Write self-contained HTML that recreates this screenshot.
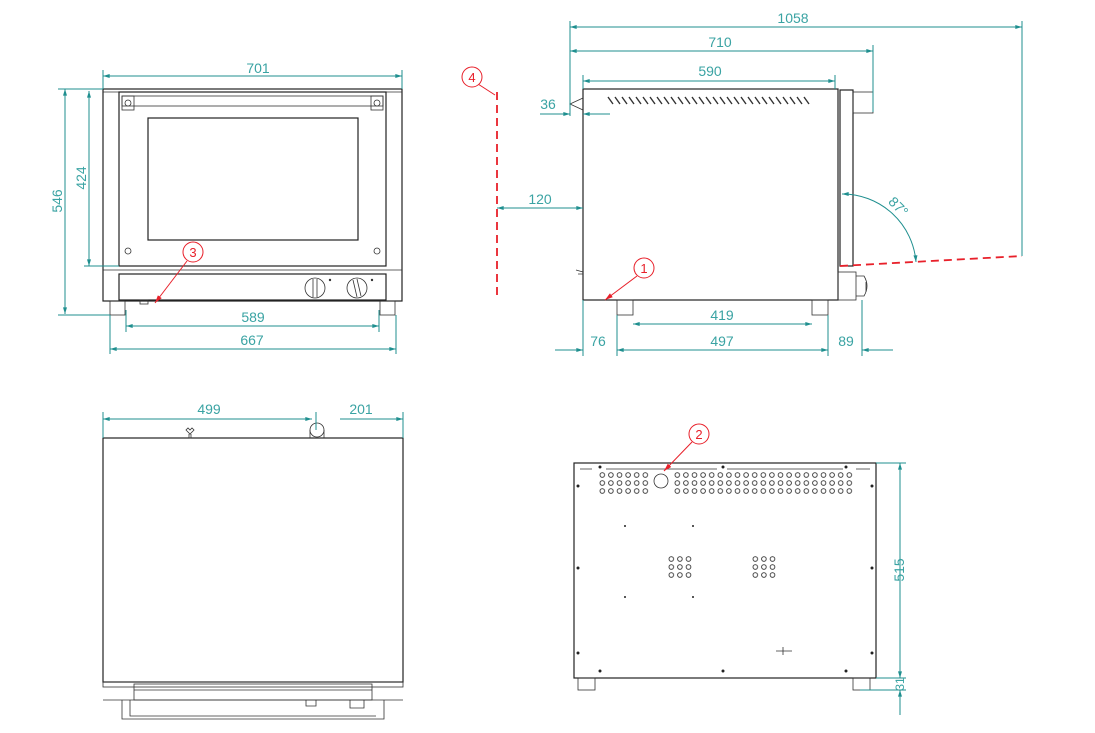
<!DOCTYPE html>
<html><head><meta charset="utf-8"><style>
html,body{margin:0;padding:0;background:#fff;}
svg{display:block;}
text{font-family:"Liberation Sans",sans-serif;font-size:14px;fill:#3aa3a3;}
.d{stroke:#1f8f8f;stroke-width:1;fill:none;}
.k{stroke:#222;stroke-width:1.2;fill:none;}
.kt{stroke:#333;stroke-width:0.8;fill:none;}
.r{stroke:#e8202a;stroke-width:1.8;fill:none;stroke-dasharray:8 5;}
.rc{stroke:#e8202a;stroke-width:1;fill:#fff;}
.rt{fill:#e8202a;font-size:13px;}
</style></head><body>
<svg width="1095" height="733" viewBox="0 0 1095 733" xmlns="http://www.w3.org/2000/svg">
<defs>
<marker id="a" viewBox="0 0 10 6" refX="10" refY="3" markerWidth="10" markerHeight="4" orient="auto-start-reverse" markerUnits="userSpaceOnUse"><path d="M0,0 L10,3 L0,6 z" fill="#1f8f8f"/></marker>
<marker id="ra" viewBox="0 0 10 6" refX="10" refY="3" markerWidth="8" markerHeight="5" orient="auto" markerUnits="userSpaceOnUse"><path d="M0,0 L10,3 L0,6 z" fill="#e8202a"/></marker>
<pattern id="h1" x="598" y="471" width="8.6" height="8" patternUnits="userSpaceOnUse"><circle cx="4.3" cy="4" r="2.3" fill="none" stroke="#333" stroke-width="0.9"/></pattern>
<pattern id="h2" x="673" y="471" width="8.6" height="8" patternUnits="userSpaceOnUse"><circle cx="4.3" cy="4" r="2.3" fill="none" stroke="#333" stroke-width="0.9"/></pattern>
<pattern id="h3" x="667" y="555" width="8.6" height="8" patternUnits="userSpaceOnUse"><circle cx="4.3" cy="4" r="2.3" fill="none" stroke="#333" stroke-width="0.9"/></pattern>
<pattern id="h4" x="751" y="555" width="8.6" height="8" patternUnits="userSpaceOnUse"><circle cx="4.3" cy="4" r="2.3" fill="none" stroke="#333" stroke-width="0.9"/></pattern>
</defs>

<!-- FRONT VIEW -->
<g>
<rect class="k" x="103" y="89" width="299" height="212"/>
<line class="kt" x1="103" y1="92" x2="402" y2="92"/>
<rect class="k" x="119" y="92" width="267" height="174"/>
<rect class="kt" x="122" y="96" width="261" height="10"/>
<rect class="kt" x="122" y="96" width="12" height="14"/><rect class="kt" x="371" y="96" width="12" height="14"/>
<circle class="kt" cx="128" cy="103" r="3"/><circle class="kt" cx="377" cy="103" r="3"/>
<rect class="k" x="148" y="118" width="210" height="122"/>
<circle class="kt" cx="128" cy="251" r="3"/><circle class="kt" cx="377" cy="251" r="3"/>
<line class="kt" x1="103" y1="270" x2="402" y2="270"/>
<rect class="k" x="119" y="274" width="267" height="26"/>
<ellipse class="kt" cx="315" cy="288" rx="10" ry="10"/><line class="kt" x1="313" y1="279" x2="313" y2="297"/><line class="kt" x1="317" y1="279" x2="317" y2="297"/>
<ellipse class="kt" cx="357" cy="288" rx="10" ry="10"/><line class="kt" x1="353" y1="280" x2="357" y2="297"/><line class="kt" x1="357" y1="279" x2="361" y2="296"/>
<circle cx="330" cy="280" r="1.2" fill="#333"/><circle cx="372" cy="280" r="1.2" fill="#333"/>
<rect class="kt" x="110" y="301" width="15" height="14"/><rect class="kt" x="380" y="301" width="15" height="14"/>
<rect class="kt" x="140" y="300" width="8" height="4"/>
<line class="d" x1="103" y1="76" x2="402" y2="76" marker-start="url(#a)" marker-end="url(#a)"/>
<line class="d" x1="103" y1="70" x2="103" y2="89"/><line class="d" x1="402" y1="70" x2="402" y2="89"/>
<text x="258" y="73" text-anchor="middle">701</text>
<line class="d" x1="65" y1="89" x2="65" y2="314" marker-start="url(#a)" marker-end="url(#a)"/>
<line class="d" x1="58" y1="89" x2="103" y2="89"/><line class="d" x1="58" y1="315" x2="110" y2="315"/>
<text transform="translate(62,201) rotate(-90)" text-anchor="middle">546</text>
<line class="d" x1="89" y1="91" x2="89" y2="266" marker-start="url(#a)" marker-end="url(#a)"/>
<line class="d" x1="84" y1="266" x2="119" y2="266"/>
<text transform="translate(86,178) rotate(-90)" text-anchor="middle">424</text>
<line class="d" x1="126" y1="326" x2="379" y2="326" marker-start="url(#a)" marker-end="url(#a)"/>
<line class="d" x1="126" y1="310" x2="126" y2="332"/><line class="d" x1="379" y1="310" x2="379" y2="332"/>
<text x="253" y="322" text-anchor="middle">589</text>
<line class="d" x1="110" y1="349" x2="396" y2="349" marker-start="url(#a)" marker-end="url(#a)"/>
<line class="d" x1="110" y1="315" x2="110" y2="354"/><line class="d" x1="396" y1="315" x2="396" y2="354"/>
<text x="252" y="345" text-anchor="middle">667</text>
<line stroke="#e8202a" stroke-width="1" x1="187" y1="261" x2="155" y2="303" marker-end="url(#ra)"/>
<circle class="rc" cx="193" cy="252" r="10"/><text class="rt" x="193" y="257" text-anchor="middle">3</text>
</g>

<!-- SIDE VIEW -->
<g>
<rect class="k" x="583" y="89" width="255" height="211"/>
<rect class="k" x="840" y="90" width="13" height="176"/>
<rect class="kt" x="853" y="92" width="20" height="21"/>
<path class="kt" d="M583,98 L570,104 L583,110"/>
<rect class="kt" x="838" y="272" width="18" height="28"/>
<path class="kt" d="M856,276 L864,276 Q870,286 864,296 L856,296"/>
<line class="kt" x1="866" y1="282" x2="866" y2="292"/>
<rect class="kt" x="617" y="300" width="16" height="15"/><rect class="kt" x="812" y="300" width="16" height="15"/>
<path class="kt" d="M578,274 L583,274 M576,270 L583,272"/>
<g stroke="#333" stroke-width="1.4">
<path d="M608,97 l5,7 M615,97 l5,7 M622,97 l5,7 M629,97 l5,7 M636,97 l5,7 M643,97 l5,7 M650,97 l5,7 M657,97 l5,7 M664,97 l5,7 M671,97 l5,7 M678,97 l5,7 M685,97 l5,7 M692,97 l5,7 M699,97 l5,7 M706,97 l5,7 M713,97 l5,7 M720,97 l5,7 M727,97 l5,7 M734,97 l5,7 M741,97 l5,7 M748,97 l5,7 M755,97 l5,7 M762,97 l5,7 M769,97 l5,7 M776,97 l5,7 M783,97 l5,7 M790,97 l5,7 M797,97 l5,7 M804,97 l5,7"/>
</g>
<line class="r" x1="497" y1="92" x2="497" y2="300"/>
<line class="r" x1="840" y1="266" x2="1022" y2="256"/>
<line stroke="#e8202a" stroke-width="1" x1="478" y1="84" x2="495" y2="95"/>
<circle class="rc" cx="472" cy="77" r="10"/><text class="rt" x="472" y="82" text-anchor="middle">4</text>
<line stroke="#e8202a" stroke-width="1" x1="637" y1="276" x2="605" y2="300" marker-end="url(#ra)"/>
<circle class="rc" cx="644" cy="268" r="10"/><text class="rt" x="644" y="273" text-anchor="middle">1</text>
<line class="d" x1="570" y1="27" x2="1022" y2="27" marker-start="url(#a)" marker-end="url(#a)"/>
<line class="d" x1="570" y1="21" x2="570" y2="116"/><line class="d" x1="1022" y1="21" x2="1022" y2="256"/>
<text x="793" y="23" text-anchor="middle">1058</text>
<line class="d" x1="570" y1="51" x2="873" y2="51" marker-start="url(#a)" marker-end="url(#a)"/>
<line class="d" x1="873" y1="45" x2="873" y2="112"/>
<text x="720" y="47" text-anchor="middle">710</text>
<line class="d" x1="583" y1="81" x2="835" y2="81" marker-start="url(#a)" marker-end="url(#a)"/>
<line class="d" x1="583" y1="75" x2="583" y2="89"/><line class="d" x1="835" y1="75" x2="835" y2="89"/>
<text x="710" y="76" text-anchor="middle">590</text>
<line class="d" x1="540" y1="114" x2="570" y2="114" marker-end="url(#a)"/>
<line class="d" x1="610" y1="114" x2="583" y2="114" marker-end="url(#a)"/>
<text x="548" y="109" text-anchor="middle">36</text>
<line class="d" x1="497" y1="208" x2="583" y2="208" marker-start="url(#a)" marker-end="url(#a)"/>
<text x="540" y="204" text-anchor="middle">120</text>
<path class="d" d="M842,194 A74,74 0 0 1 916,262" marker-start="url(#a)" marker-end="url(#a)"/>
<text transform="translate(895,210) rotate(45)" text-anchor="middle">87°</text>
<line class="d" x1="633" y1="324" x2="812" y2="324" marker-start="url(#a)" marker-end="url(#a)"/>
<text x="722" y="320" text-anchor="middle">419</text>
<line class="d" x1="555" y1="350" x2="583" y2="350" marker-end="url(#a)"/>
<line class="d" x1="617" y1="350" x2="828" y2="350" marker-start="url(#a)" marker-end="url(#a)"/>
<line class="d" x1="893" y1="350" x2="862" y2="350" marker-end="url(#a)"/>
<line class="d" x1="583" y1="300" x2="583" y2="356"/><line class="d" x1="617" y1="315" x2="617" y2="356"/>
<line class="d" x1="828" y1="315" x2="828" y2="356"/><line class="d" x1="862" y1="300" x2="862" y2="356"/>
<text x="598" y="346" text-anchor="middle">76</text>
<text x="722" y="346" text-anchor="middle">497</text>
<text x="846" y="346" text-anchor="middle">89</text>
</g>

<!-- TOP VIEW -->
<g>
<rect class="k" x="103" y="438" width="300" height="244"/>
<rect class="kt" x="103" y="682" width="300" height="5"/>
<rect class="kt" x="134" y="684" width="238" height="16"/>
<line class="kt" x1="134" y1="690" x2="372" y2="690"/>
<path class="kt" d="M103,700 L403,700 M122,700 L122,719 L384,719 L384,700 M130,700 L130,716 L376,716"/>
<path class="kt" d="M306,700 l0,6 l10,0 l0,-6 M350,700 l0,8 l14,0 l0,-8"/>
<path class="kt" d="M186,430 l4,4 l4,-4 l-2,-2 l-2,2 l-2,-2 z M189,434 l0,4 l2,0 l0,-4"/>
<circle class="kt" cx="317" cy="430" r="7"/>
<line class="kt" x1="310" y1="430" x2="310" y2="438"/><line class="kt" x1="324" y1="430" x2="324" y2="438"/>
<line class="d" x1="103" y1="419" x2="312" y2="419" marker-start="url(#a)" marker-end="url(#a)"/>
<line class="d" x1="340" y1="419" x2="403" y2="419" marker-end="url(#a)"/>
<line class="d" x1="103" y1="412" x2="103" y2="438"/><line class="d" x1="403" y1="412" x2="403" y2="438"/>
<line class="d" x1="316" y1="412" x2="316" y2="430"/>
<text x="209" y="414" text-anchor="middle">499</text>
<text x="361" y="414" text-anchor="middle">201</text>
</g>

<!-- REAR VIEW -->
<g>
<rect class="k" x="574" y="463" width="302" height="215"/>
<path class="kt" d="M580,469 L592,469 M606,469 L717,469 M727,469 L843,469 M856,469 L870,469"/>
<rect x="598" y="471" width="52" height="24" fill="url(#h1)"/>
<rect x="673" y="471" width="181" height="24" fill="url(#h2)"/>
<rect x="652" y="472" width="18" height="18" fill="#fff"/>
<ellipse class="kt" cx="661" cy="481" rx="7" ry="7"/>
<rect x="667" y="555" width="26" height="24" fill="url(#h3)"/>
<rect x="751" y="555" width="26" height="24" fill="url(#h4)"/>
<g fill="#222">
<circle cx="600" cy="467" r="1.5"/><circle cx="723" cy="467" r="1.5"/><circle cx="846" cy="467" r="1.5"/>
<circle cx="578" cy="486" r="1.5"/><circle cx="872" cy="486" r="1.5"/>
<circle cx="578" cy="568" r="1.5"/><circle cx="872" cy="568" r="1.5"/>
<circle cx="578" cy="653" r="1.5"/><circle cx="872" cy="653" r="1.5"/>
<circle cx="600" cy="671" r="1.5"/><circle cx="723" cy="671" r="1.5"/><circle cx="846" cy="671" r="1.5"/>
<circle cx="625" cy="526" r="1"/><circle cx="693" cy="526" r="1"/><circle cx="625" cy="597" r="1"/><circle cx="693" cy="597" r="1"/>
</g>
<path class="kt" d="M776,651 L792,651 M783,647 L783,655"/>
<rect class="kt" x="578" y="678" width="17" height="12"/><rect class="kt" x="853" y="678" width="17" height="12"/>
<line class="d" x1="900" y1="463" x2="900" y2="678" marker-start="url(#a)" marker-end="url(#a)"/>
<line class="d" x1="876" y1="463" x2="906" y2="463"/><line class="d" x1="876" y1="678" x2="906" y2="678"/>
<line class="d" x1="860" y1="690" x2="906" y2="690"/>
<line class="d" x1="900" y1="690" x2="900" y2="715" marker-start="url(#a)"/>
<text transform="translate(904,570) rotate(-90)" text-anchor="middle">515</text>
<text transform="translate(904,684) rotate(-90)" text-anchor="middle" style="font-size:12px">31</text>
<line stroke="#e8202a" stroke-width="1" x1="692" y1="442" x2="664" y2="471" marker-end="url(#ra)"/>
<circle class="rc" cx="699" cy="434" r="10"/><text class="rt" x="699" y="439" text-anchor="middle">2</text>
</g>
</svg>
</body></html>
